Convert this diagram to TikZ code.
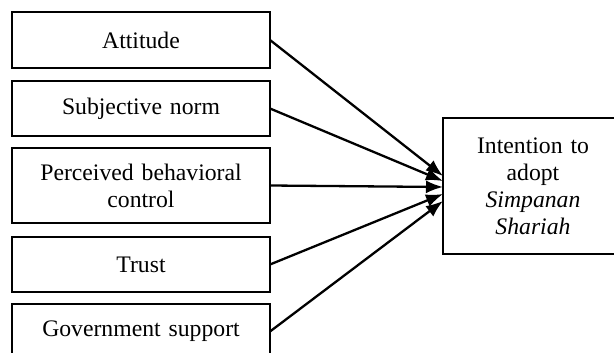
\documentclass[tikz,border=0pt]{standalone}
\usepackage{fontspec}
\setmainfont{Liberation Serif}
\usetikzlibrary{positioning}
\usetikzlibrary{arrows.meta}

\tikzset{
	factor/.style={draw, line width=2pt, minimum width=258pt, minimum height=56pt, text width=250pt, align=center, inner sep=0pt, outer sep=0pt},
	link/.style={line width=2.3pt, -{Latex[length=17pt,width=13pt]}}
}

\begin{document}
\begin{tikzpicture}[x=1pt,y=-1pt,font=\fontsize{23.7}{27}\selectfont, node distance=13pt]
		\useasboundingbox (0,0) rectangle (614,353);
		\clip (0,0) rectangle (614,353);
		\node [factor] (att) at (141,40) {Attitude};
		\node [factor, minimum height=55pt, below=of att] (sn) {Subjective norm};
		\node [factor, minimum height=75pt, below=12pt of sn] (pbc) {Perceived behavioral\\control};
		\node [factor, minimum height=55pt, below=14pt of pbc] (tr) {Trust};
		\node [factor, minimum height=55pt, below=12pt of tr] (gov) {Government support};
		\node [factor, minimum width=180pt, minimum height=136pt, text width=172pt] (int) at (533,186) {Intention to\\adopt\\\textit{Simpanan}\\\textit{Shariah}};
		% arrow tips on the intention box
		\coordinate (t1) at ([yshift=10pt]int.west);
		\coordinate (t2) at ([yshift=5pt]int.west);
		\coordinate (t3) at ([yshift=-1pt]int.west);
		\coordinate (t4) at ([yshift=-8pt]int.west);
		\coordinate (t5) at ([yshift=-15pt]int.west);
		\draw [link] (att.east) -- (t1);
		\draw [link] (sn.east) -- (t2);
		\draw [link] (pbc.east) -- (t3);
		\draw [link] (tr.east) -- (t4);
		\draw [link] (gov.east) -- (t5);
	\end{tikzpicture}
\end{document}
